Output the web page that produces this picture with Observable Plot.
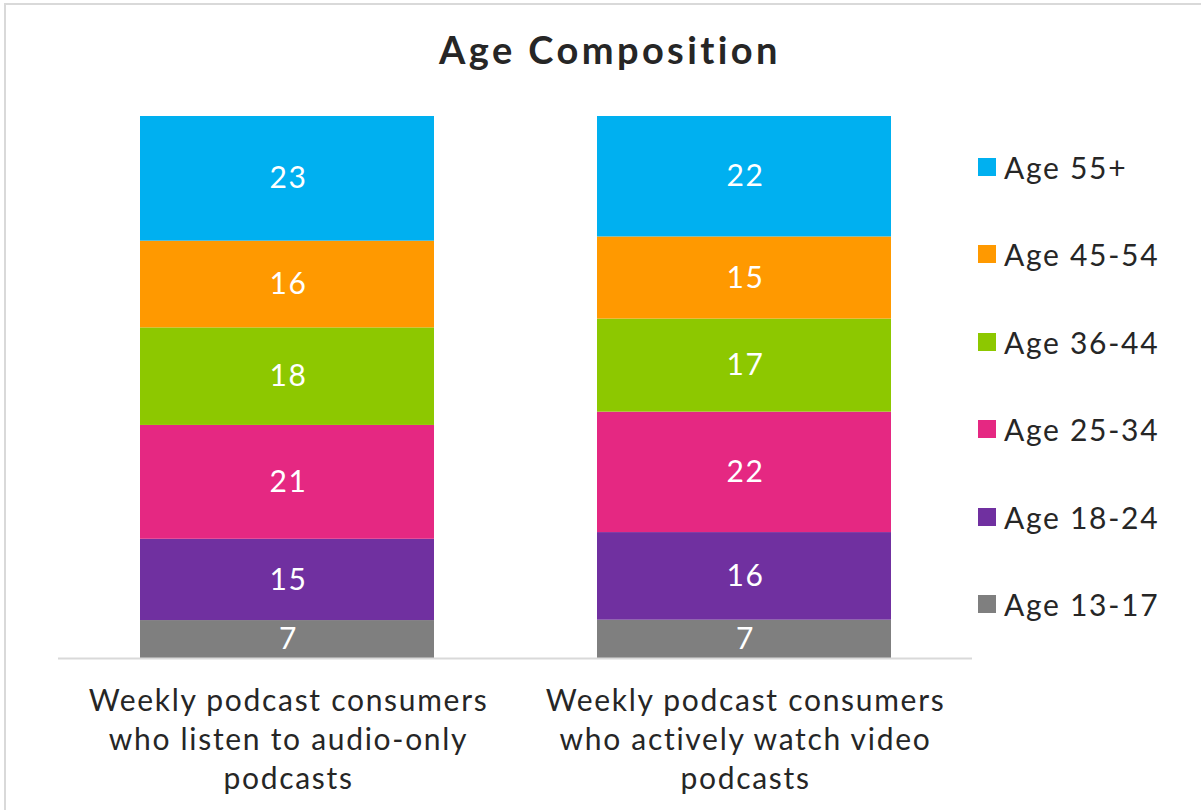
<!DOCTYPE html>
<html>
<head>
<meta charset="utf-8">
<script src="https://cdn.jsdelivr.net/npm/d3@7"></script>
<script src="https://cdn.jsdelivr.net/npm/@observablehq/plot@0.6"></script>
<style>
  html, body { margin: 0; padding: 0; background: #fff; }
  #frame { position: relative; width: 1201px; height: 810px; overflow: hidden; font-family: Lato, "Open Sans", sans-serif; color: #262626; }
  #border { position: absolute; left: 4px; top: 3px; width: 1300px; height: 900px; border-left: 2px solid #d9d9d9; border-top: 2px solid #d9d9d9; }
  #title { position: absolute; left: 0; top: 27px; width: 1220px; text-align: center; font-size: 38px; font-weight: 700; letter-spacing: 3.4px; line-height: 44px; color: #262626; }
  #chart { position: absolute; left: 0; top: 90px; }
  #legend { position: absolute; left: 978px; top: 123px; }
  .row { display: flex; align-items: center; height: 87.5px; font-size: 30px; letter-spacing: 1.7px; color: #262626; }
  .sw { width: 18px; height: 18px; margin-right: 8px; }
</style>
</head>
<body>
<div id="frame">
  <div id="border"></div>
  <div id="title">Age Composition</div>
  <div id="chart"></div>
  <div id="legend"></div>
</div>
<script>
const groups = [
  "Weekly podcast consumers\nwho listen to audio-only\npodcasts",
  "Weekly podcast consumers\nwho actively watch video\npodcasts"
];
const ages = ["Age 13-17", "Age 18-24", "Age 25-34", "Age 36-44", "Age 45-54", "Age 55+"];
const audioOnly = [7, 15, 21, 18, 16, 23];
const videoWatch = [7, 16, 22, 17, 15, 22];
const colors = ["#7f7f7f", "#7030a0", "#e52882", "#8dc800", "#ff9900", "#00b0f0"];

const seriesByGroup = [audioOnly, videoWatch];
const data = [];
groups.forEach((g, gi) => {
  ages.forEach((a, ai) => {
    data.push({group: g, age: a, value: seriesByGroup[gi][ai]});
  });
});

const chart = Plot.plot({
  width: 1201,
  height: 720,
  marginTop: 26,
  marginBottom: 152,
  marginLeft: 58,
  marginRight: 229,
  style: {fontFamily: "Lato, 'Open Sans', sans-serif", color: "#262626", background: "transparent", letterSpacing: "1.7px"},
  x: {domain: groups, paddingInner: 0.357, paddingOuter: 0.178, axis: null},
  y: {domain: [0, 1], axis: null},
  color: {domain: ages, range: colors},
  marks: [
    Plot.barY(data, Plot.stackY({x: "group", y: "value", fill: "age", offset: "normalize"})),
    Plot.text(data, Plot.stackY({x: "group", y: "value", text: d => String(d.value), offset: "normalize", fill: "white", fontSize: 30, dx: 1})),
    Plot.ruleY([0], {stroke: "#d9d9d9", strokeWidth: 2}),
    Plot.axisX({domain: groups, tickSize: 0, tickPadding: 25, fontSize: 30, lineHeight: 1.3, label: null, fill: "#262626", dx: 1})
  ]
});
document.getElementById("chart").appendChild(chart);

const legend = document.getElementById("legend");
for (let i = ages.length - 1; i >= 0; i--) {
  const row = document.createElement("div");
  row.className = "row";
  const sw = document.createElement("div");
  sw.className = "sw";
  sw.style.background = colors[i];
  const tx = document.createElement("span");
  tx.textContent = ages[i];
  row.appendChild(sw);
  row.appendChild(tx);
  legend.appendChild(row);
}
</script>
</body>
</html>
